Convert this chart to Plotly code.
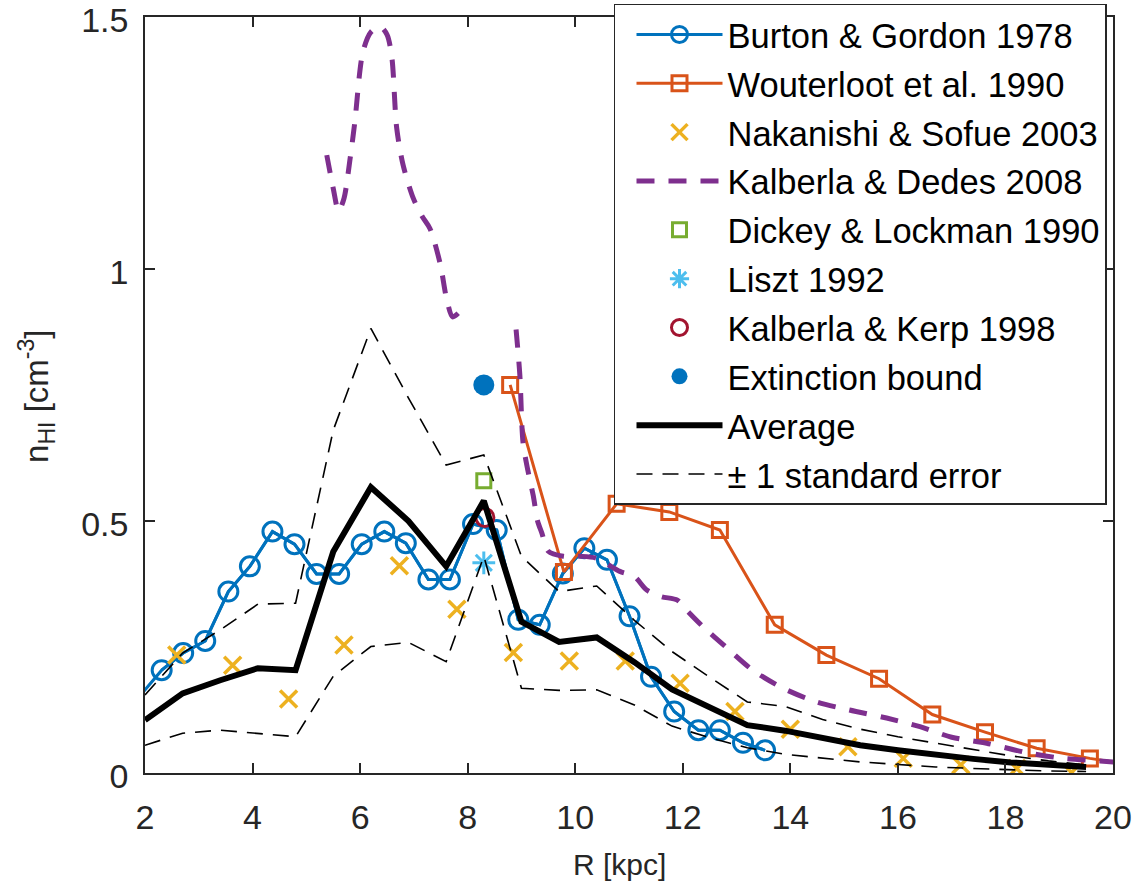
import plotly.graph_objects as go

# ---------------- data ----------------
burton_R = [1.89, 2.31, 2.71, 3.12, 3.55, 3.95, 4.37, 4.78, 5.19, 5.61, 6.03, 6.45, 6.85, 7.27,
            7.67, 8.10, 8.54, 8.94, 9.34, 9.77, 10.17, 10.59, 11.01, 11.41, 11.84, 12.29, 12.69,
            13.12, 13.53]
burton_n = [0.151, 0.204, 0.238, 0.262, 0.360, 0.410, 0.479, 0.454, 0.395, 0.395, 0.454, 0.479,
            0.456, 0.384, 0.384, 0.494, 0.482, 0.304, 0.294, 0.396, 0.446, 0.423, 0.311, 0.191,
            0.122, 0.085, 0.085, 0.060, 0.045]

wout_R = [8.79, 9.79, 10.77, 11.75, 12.69, 13.71, 14.67, 15.65, 16.64, 17.62, 18.58, 19.57, 20.55]
wout_n = [0.770, 0.399, 0.534, 0.518, 0.482, 0.294, 0.234, 0.187, 0.116, 0.081, 0.049, 0.029, 0.013]

nak_R = [2.59, 3.63, 4.67, 5.70, 6.73, 7.80, 8.85, 9.89, 10.93, 11.95, 12.97, 14.00, 15.07,
         16.10, 17.17, 18.21, 19.23]
nak_n = [0.234, 0.214, 0.147, 0.254, 0.411, 0.325, 0.239, 0.222, 0.222, 0.178, 0.122, 0.087,
         0.052, 0.029, 0.016, 0.009, 0.001]

kd_R = [5.38, 5.50, 5.60, 5.70, 5.81, 5.90, 6.05, 6.20, 6.37, 6.50, 6.59, 6.68, 6.80, 6.99,
        7.15, 7.30, 7.49, 7.61, 7.72, 7.85, None,
        8.90, 8.97, 9.03, 9.12, 9.22, 9.30, 9.38, 9.50, 9.78, 10.10, 10.40, 10.83, 11.10,
        11.33, 11.60, 11.90, 12.10, 12.38, 12.80, 13.30, 13.87, 14.49, 15.10, 15.79, 16.41,
        17.00, 17.65, 18.33, 19.00, 19.76, 20.20]
kd_n = [1.226, 1.160, 1.115, 1.140, 1.216, 1.290, 1.430, 1.470, 1.481, 1.465, 1.420, 1.280,
        1.206, 1.140, 1.105, 1.080, 1.010, 0.940, 0.905, 0.915, None,
        0.880, 0.790, 0.655, 0.600, 0.550, 0.500, 0.476, 0.440, 0.430, 0.430, 0.426, 0.400,
        0.390, 0.363, 0.350, 0.343, 0.320, 0.290, 0.250, 0.204, 0.168, 0.141, 0.125, 0.109,
        0.092, 0.071, 0.059, 0.042, 0.030, 0.024, 0.020]

dickey_R, dickey_n = [8.3], [0.580]
liszt_R, liszt_n = [8.3], [0.417]
kerp_R, kerp_n = [8.32], [0.507]
ext_R, ext_n = [8.3], [0.770]

avg_R = [2.0, 2.7, 3.4, 4.1, 4.8, 5.5, 6.2, 6.9, 7.6, 8.3, 9.0, 9.7, 10.4, 11.1, 11.8, 12.5,
         13.2, 13.9, 14.6, 15.3, 16.0, 16.7, 17.4, 18.1, 18.8, 19.5]
avg_n = [0.105, 0.158, 0.184, 0.208, 0.204, 0.439, 0.567, 0.500, 0.410, 0.540, 0.300, 0.260,
         0.269, 0.220, 0.166, 0.131, 0.095, 0.084, 0.068, 0.055, 0.045, 0.036, 0.028, 0.021,
         0.016, 0.012]
upper_n = [0.155, 0.238, 0.284, 0.335, 0.337, 0.680, 0.882, 0.744, 0.611, 0.631, 0.430, 0.360,
           0.371, 0.303, 0.241, 0.190, 0.141, 0.132, 0.106, 0.087, 0.072, 0.059, 0.046, 0.034,
           0.024, 0.016]
lower_n = [0.055, 0.079, 0.085, 0.079, 0.072, 0.192, 0.251, 0.259, 0.221, 0.430, 0.168, 0.164,
           0.165, 0.135, 0.093, 0.070, 0.050, 0.037, 0.029, 0.022, 0.017, 0.012, 0.009, 0.006,
           0.004, 0.003]

x_ticks = [2, 4, 6, 8, 10, 12, 14, 16, 18, 20]
y_ticks = [0, 0.5, 1, 1.5]
y_tick_text = ["0", "0.5", "1", "1.5"]
x_label = "R [kpc]"
y_label = "n<sub>HI</sub> [cm<sup>-3</sup>]"

# ---------------- figure ----------------
C_BLUE = "#0072BD"
C_ORANGE = "#D95319"
C_YELLOW = "#EDB120"
C_PURPLE = "#7E2F8E"
C_GREEN = "#77AC30"
C_LBLUE = "#4DBEEE"
C_RED = "#A2142F"
AX = "#262626"
FONT = "Liberation Sans, Arial, Helvetica, sans-serif"

fig = go.Figure()

# Burton & Gordon: the line runs in from the left edge; markers only inside the axes
fig.add_trace(go.Scatter(x=burton_R, y=burton_n, mode="lines", showlegend=False,
                         legendgroup="g1", hoverinfo="skip",
                         line=dict(color=C_BLUE, width=3)))
fig.add_trace(go.Scatter(x=burton_R[1:], y=burton_n[1:], mode="lines+markers",
                         name="Burton & Gordon 1978", legendgroup="g1",
                         line=dict(color=C_BLUE, width=3),
                         marker=dict(symbol="circle-open", size=19, color=C_BLUE,
                                     line=dict(width=3, color=C_BLUE))))
fig.add_trace(go.Scatter(x=wout_R, y=wout_n, mode="lines+markers", name="Wouterloot et al. 1990",
                         legendgroup="g2",
                         line=dict(color=C_ORANGE, width=3),
                         marker=dict(symbol="square-open", size=15, color=C_ORANGE,
                                     line=dict(width=3, color=C_ORANGE))))
fig.add_trace(go.Scatter(x=nak_R, y=nak_n, mode="markers", name="Nakanishi & Sofue 2003",
                         legendgroup="g3",
                         marker=dict(symbol="x-thin-open", size=17, color=C_YELLOW,
                                     line=dict(width=3.5, color=C_YELLOW))))
fig.add_trace(go.Scatter(x=kd_R, y=kd_n, mode="lines", name="Kalberla & Dedes 2008",
                         legendgroup="g4", connectgaps=False, line_shape="spline",
                         line=dict(color=C_PURPLE, width=5, dash="18px,14px", smoothing=0.8)))
fig.add_trace(go.Scatter(x=dickey_R, y=dickey_n, mode="markers", name="Dickey & Lockman 1990",
                         legendgroup="g5",
                         marker=dict(symbol="square-open", size=14, color=C_GREEN,
                                     line=dict(width=3, color=C_GREEN))))
fig.add_trace(go.Scatter(x=liszt_R, y=liszt_n, mode="markers", name="Liszt 1992",
                         legendgroup="g6",
                         marker=dict(symbol="asterisk-open", size=19, color=C_LBLUE,
                                     line=dict(width=3, color=C_LBLUE))))
fig.add_trace(go.Scatter(x=kerp_R, y=kerp_n, mode="markers", name="Kalberla & Kerp 1998",
                         legendgroup="g7",
                         marker=dict(symbol="circle-open", size=18, color=C_RED,
                                     line=dict(width=3, color=C_RED))))
fig.add_trace(go.Scatter(x=ext_R, y=ext_n, mode="markers", name="Extinction bound",
                         legendgroup="g8",
                         marker=dict(symbol="circle", size=21, color=C_BLUE)))
fig.add_trace(go.Scatter(x=avg_R, y=avg_n, mode="lines", name="Average",
                         legendgroup="g9",
                         line=dict(color="black", width=6)))
fig.add_trace(go.Scatter(x=avg_R, y=upper_n, mode="lines", name="± 1 standard error",
                         legendgroup="g10",
                         line=dict(color="black", width=1.6, dash="16px,10px")))
fig.add_trace(go.Scatter(x=avg_R, y=lower_n, mode="lines", name="± 1 standard error",
                         legendgroup="g10", showlegend=False,
                         line=dict(color="black", width=1.6, dash="16px,10px")))

axis_common = dict(showgrid=False, zeroline=False, showline=True, linecolor=AX, linewidth=1.5,
                   mirror="ticks", ticks="inside", ticklen=10, tickwidth=1.5, tickcolor=AX,
                   ticklabeloverflow="allow",
                   tickfont=dict(family=FONT, size=34, color=AX))

fig.update_layout(
    width=1140, height=886,
    margin=dict(l=145, r=27, t=17, b=113, autoexpand=False),
    paper_bgcolor="white", plot_bgcolor="white",
    font=dict(family=FONT, color=AX),
    xaxis=dict(range=[2, 20], tickvals=x_ticks, ticklabelstandoff=13, **axis_common),
    yaxis=dict(range=[0, 1.5], tickvals=y_ticks, ticktext=y_tick_text, ticklabelstandoff=8,
               ticklabelshift=3, **axis_common),
    legend=dict(x=0.9938, y=1.0172, xanchor="right", yanchor="top",
                bgcolor="white", bordercolor=AX, borderwidth=1.5,
                font=dict(family=FONT, size=34.5, color="black"),
                tracegroupgap=1, itemwidth=86, indentation=16, maxheight=700),
    showlegend=True,
)

# axis labels
fig.add_annotation(text=x_label, xref="paper", yref="paper", x=0.4897, y=-0.1204,
                   xanchor="center", yanchor="middle", showarrow=False,
                   font=dict(family=FONT, size=30, color=AX))
fig.add_annotation(text=y_label, xref="paper", yref="paper", x=-0.1116, y=0.4987,
                   xanchor="center", yanchor="middle", showarrow=False, textangle=-90,
                   font=dict(family=FONT, size=33, color=AX))

fig.write_html("out.html")
